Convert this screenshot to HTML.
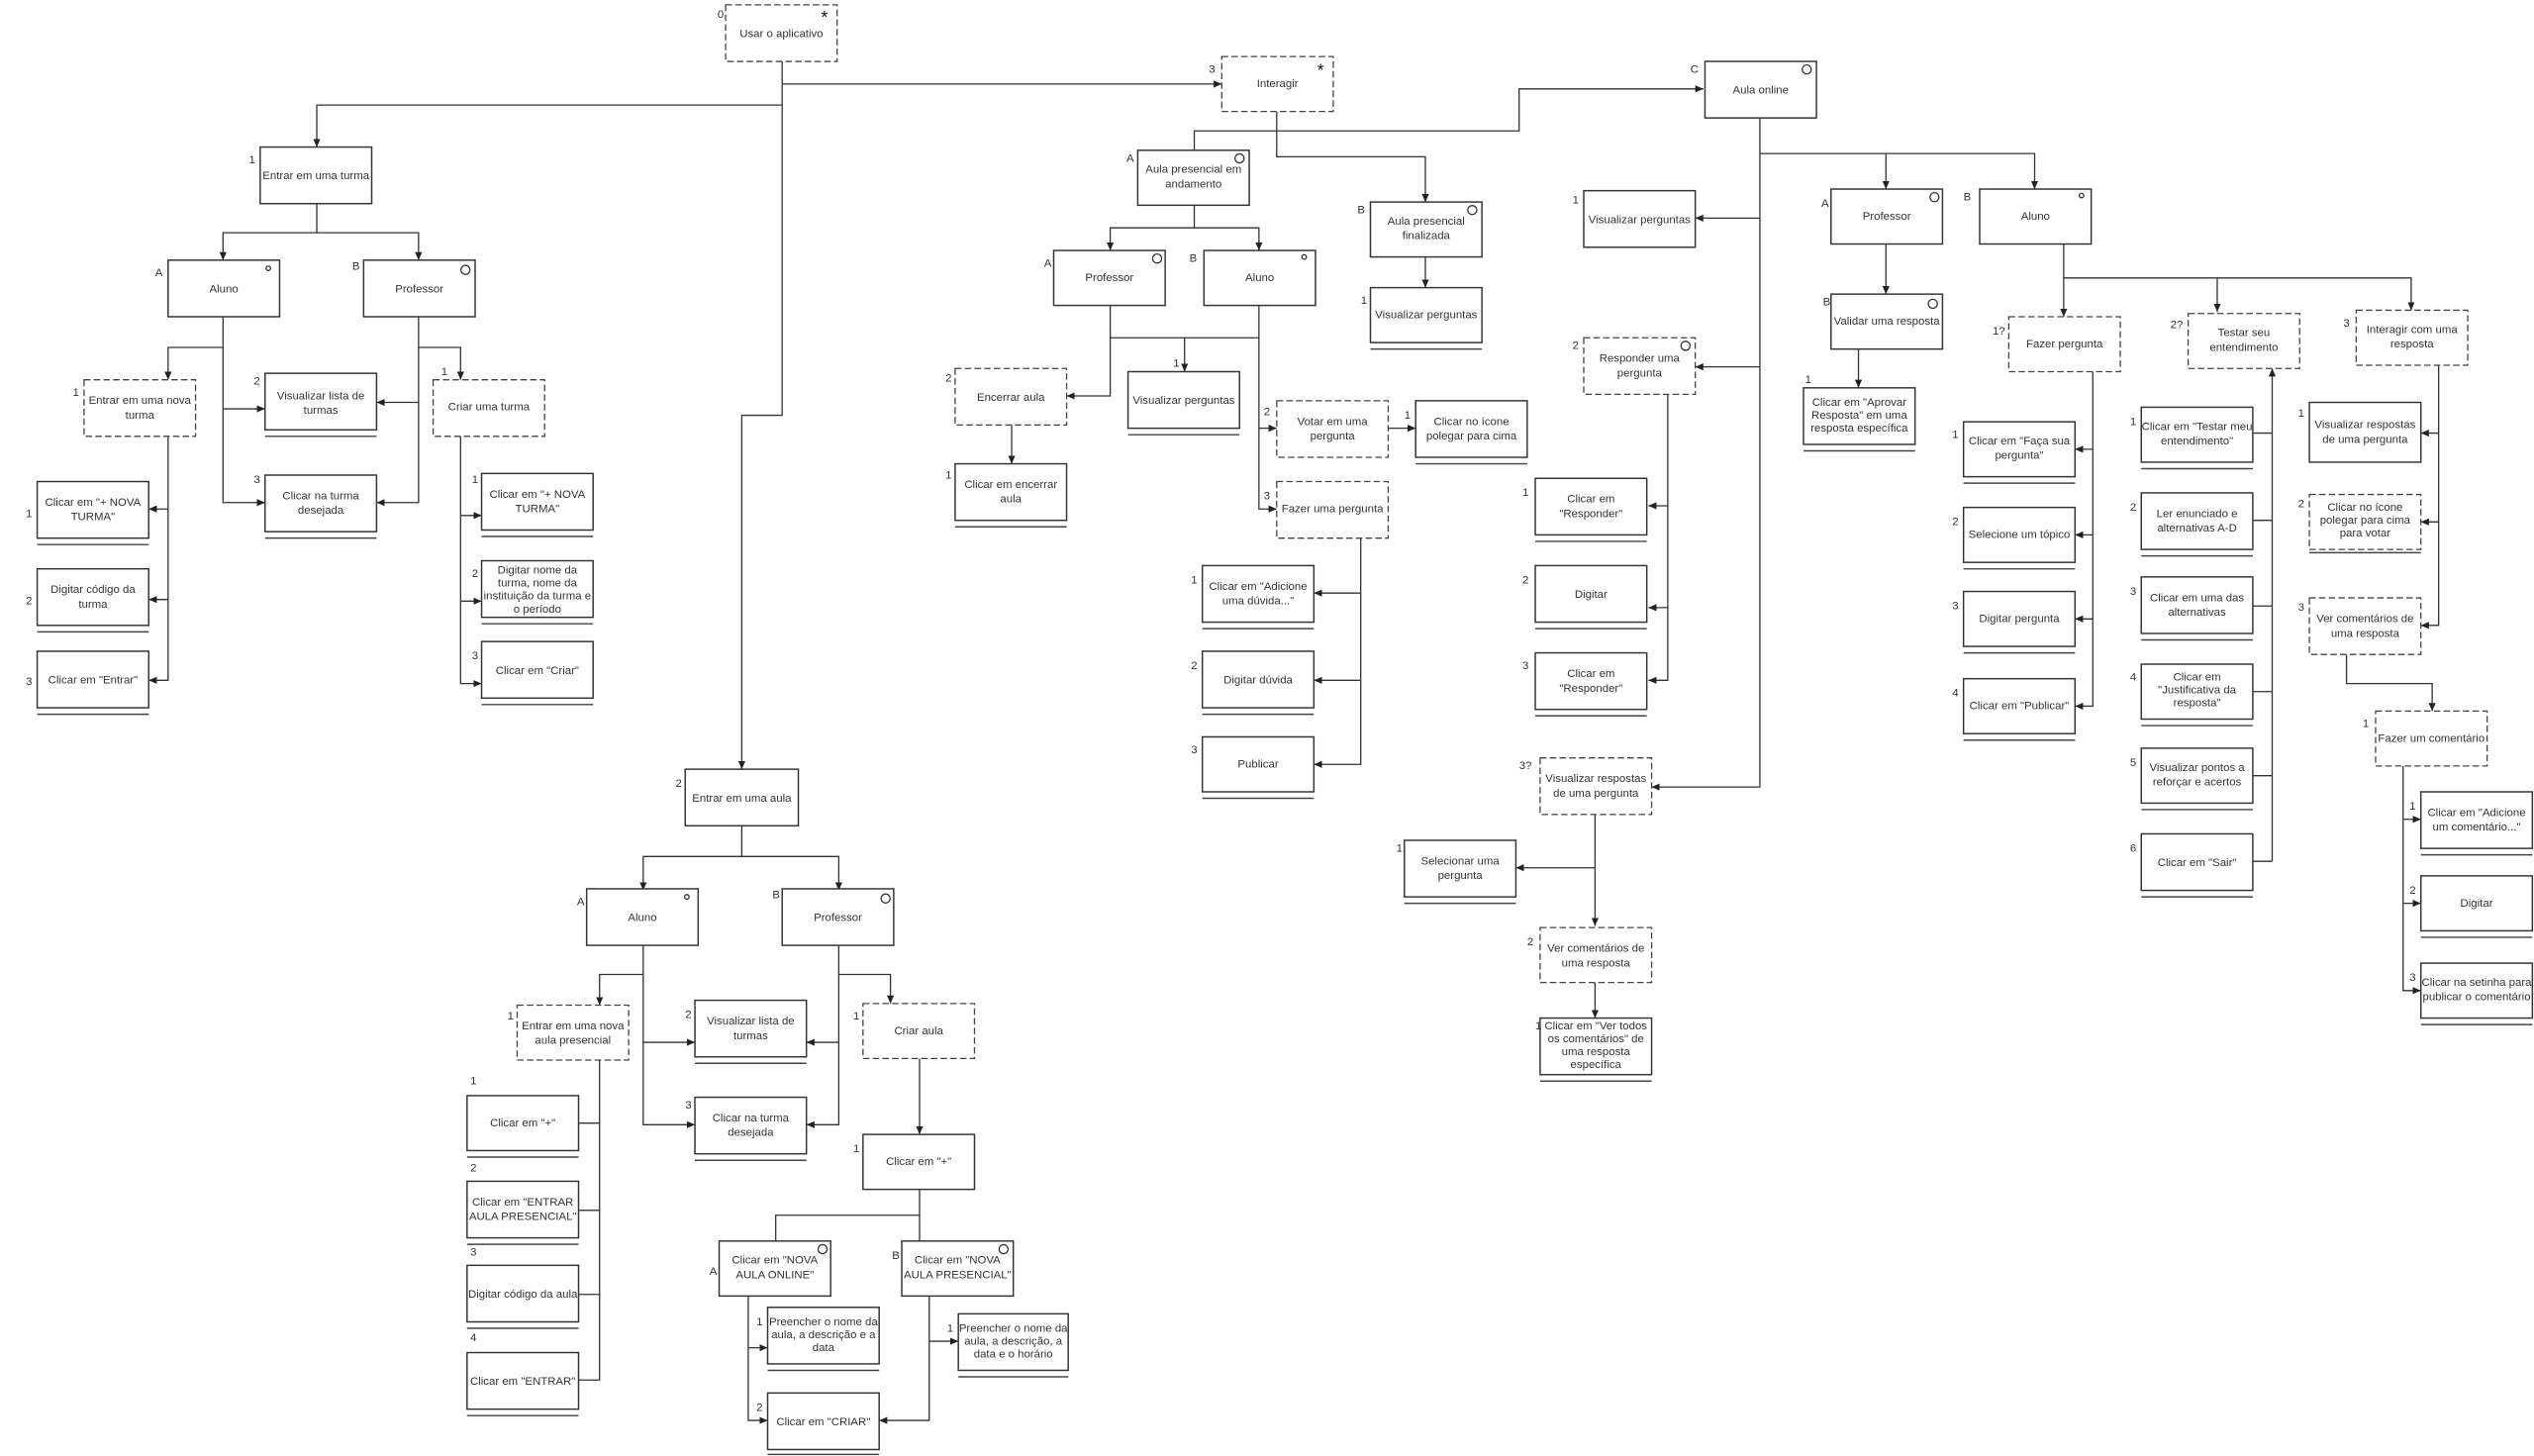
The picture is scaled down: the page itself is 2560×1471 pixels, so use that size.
<!DOCTYPE html>
<html><head><meta charset="utf-8"><style>
html,body{margin:0;padding:0;background:#fff;width:2560px;height:1471px;overflow:hidden}
svg{display:block}
text{font-family:"Liberation Sans",Arial,sans-serif;font-size:7px;fill:#333}
.t{text-anchor:middle}
.b{fill:#fff;stroke:#333;stroke-width:0.9}
.d{fill:#fff;stroke:#444;stroke-width:0.8;stroke-dasharray:4 2}
.u{stroke:#444;stroke-width:0.9}
.c{fill:none;stroke:#333;stroke-width:0.8}
.l{fill:none;stroke:#333;stroke-width:0.8}
</style></head><body>
<svg width="2560" height="1471" viewBox="0 0 1568 901" xmlns="http://www.w3.org/2000/svg">
<defs><marker id="a" markerWidth="6" markerHeight="6" refX="5" refY="3" orient="auto" markerUnits="userSpaceOnUse"><path d="M0,0.8 L5,3 L0,5.2 z" fill="#222"/></marker></defs>
<g class="l">
<path d="M484 38V257H459V476" marker-end="url(#a)"/>
<path d="M484 52H756" marker-end="url(#a)"/>
<path d="M484 65H196V91" marker-end="url(#a)"/>
<path d="M196 126V144H138V161" marker-end="url(#a)"/>
<path d="M196 144H259V161" marker-end="url(#a)"/>
<path d="M138 196V311H164" marker-end="url(#a)"/>
<path d="M138 253H164" marker-end="url(#a)"/>
<path d="M138 215H104V235" marker-end="url(#a)"/>
<path d="M259 196V311H233" marker-end="url(#a)"/>
<path d="M259 249H233" marker-end="url(#a)"/>
<path d="M259 215H285V235" marker-end="url(#a)"/>
<path d="M104 270V421H92" marker-end="url(#a)"/>
<path d="M104 315H92" marker-end="url(#a)"/>
<path d="M104 371H92" marker-end="url(#a)"/>
<path d="M285 270V423H298" marker-end="url(#a)"/>
<path d="M285 319H298" marker-end="url(#a)"/>
<path d="M285 372H298" marker-end="url(#a)"/>
<path d="M459 511V530H398V551" marker-end="url(#a)"/>
<path d="M459 530H519V551" marker-end="url(#a)"/>
<path d="M398 585V696H430" marker-end="url(#a)"/>
<path d="M398 645H430" marker-end="url(#a)"/>
<path d="M398 603H371V622" marker-end="url(#a)"/>
<path d="M519 585V696H499" marker-end="url(#a)"/>
<path d="M519 645H499" marker-end="url(#a)"/>
<path d="M519 603H551V621" marker-end="url(#a)"/>
<path d="M371 656V854H358M371 695H358M371 749H358M371 801H358"/>
<path d="M569 655V702" marker-end="url(#a)"/>
<path d="M569 736V752H480V768M569 752V768"/>
<path d="M463 802V879H475" marker-end="url(#a)"/>
<path d="M463 834H475" marker-end="url(#a)"/>
<path d="M575 802V879H544" marker-end="url(#a)"/>
<path d="M575 830H593" marker-end="url(#a)"/>
<path d="M790 69V97H882V125" marker-end="url(#a)"/>
<path d="M739 93V81H940V55H1054" marker-end="url(#a)"/>
<path d="M739 127V141H687V155" marker-end="url(#a)"/>
<path d="M739 141H779V155" marker-end="url(#a)"/>
<path d="M687 189V245H660" marker-end="url(#a)"/>
<path d="M687 209H779"/>
<path d="M733 209V230" marker-end="url(#a)"/>
<path d="M779 189V315H790" marker-end="url(#a)"/>
<path d="M779 265H790" marker-end="url(#a)"/>
<path d="M626 263V287" marker-end="url(#a)"/>
<path d="M859 265H876" marker-end="url(#a)"/>
<path d="M842 333V473H813" marker-end="url(#a)"/>
<path d="M842 367H813" marker-end="url(#a)"/>
<path d="M842 421H813" marker-end="url(#a)"/>
<path d="M882 159V178" marker-end="url(#a)"/>
<path d="M1089 73V487H1022" marker-end="url(#a)"/>
<path d="M1089 95H1259V117" marker-end="url(#a)"/>
<path d="M1167 95V117" marker-end="url(#a)"/>
<path d="M1089 135H1049" marker-end="url(#a)"/>
<path d="M1089 227H1049" marker-end="url(#a)"/>
<path d="M1167 151V182" marker-end="url(#a)"/>
<path d="M1150 216V240" marker-end="url(#a)"/>
<path d="M1277 151V172H1492V192" marker-end="url(#a)"/>
<path d="M1277 172V196" marker-end="url(#a)"/>
<path d="M1372 172V193" marker-end="url(#a)"/>
<path d="M1295 230V437H1284" marker-end="url(#a)"/>
<path d="M1295 278H1284" marker-end="url(#a)"/>
<path d="M1295 331H1284" marker-end="url(#a)"/>
<path d="M1295 383H1284" marker-end="url(#a)"/>
<path d="M1406 533V228" marker-end="url(#a)"/>
<path d="M1394 268H1406M1394 322H1406M1394 375H1406M1394 428H1406M1394 480H1406M1394 533H1406"/>
<path d="M1509 226V387H1498" marker-end="url(#a)"/>
<path d="M1509 268H1498" marker-end="url(#a)"/>
<path d="M1509 323H1498" marker-end="url(#a)"/>
<path d="M1452 405V423H1505V440" marker-end="url(#a)"/>
<path d="M1487 474V613H1498" marker-end="url(#a)"/>
<path d="M1487 507H1498" marker-end="url(#a)"/>
<path d="M1487 559H1498" marker-end="url(#a)"/>
<path d="M1032 244V421H1020" marker-end="url(#a)"/>
<path d="M1032 313H1020" marker-end="url(#a)"/>
<path d="M1032 376H1020" marker-end="url(#a)"/>
<path d="M987 504V573" marker-end="url(#a)"/>
<path d="M987 537H938" marker-end="url(#a)"/>
<path d="M987 608V630" marker-end="url(#a)"/>
</g>

<!-- boxes -->
<g>
<rect class="d" x="449" y="3" width="69" height="35"/><text class="t" x="483.5" y="23">Usar o aplicativo</text><text x="444" y="11">0</text><text x="508" y="14" style="font-size:11px;fill:#111">*</text>
<rect class="d" x="756" y="35" width="69" height="34"/><text class="t" x="790.5" y="54">Interagir</text><text x="748" y="45">3</text><text x="815" y="47" style="font-size:11px;fill:#111">*</text>

<rect class="b" x="161" y="91" width="69" height="35"/><text class="t" x="195.5" y="111">Entrar em uma turma</text><text x="154" y="101">1</text>
<rect class="b" x="104" y="161" width="69" height="35"/><text class="t" x="138.5" y="181">Aluno</text><text x="96" y="171">A</text><circle class="c" cx="166" cy="166" r="1.4"/>
<rect class="b" x="225" y="161" width="69" height="35"/><text class="t" x="259.5" y="181">Professor</text><text x="218" y="167">B</text><circle class="c" cx="288" cy="167" r="2.8"/>
<rect class="d" x="52" y="235" width="69" height="35"/><text class="t" x="86.5" y="250">Entrar em uma nova</text><text class="t" x="86.5" y="259">turma</text><text x="45" y="245">1</text>
<rect class="b" x="164" y="231" width="69" height="35"/><text class="t" x="198.5" y="247">Visualizar lista de</text><text class="t" x="198.5" y="256">turmas</text><text x="157" y="238">2</text><line class="u" x1="164" y1="270" x2="233" y2="270"/>
<rect class="d" x="268" y="235" width="69" height="35"/><text class="t" x="302.5" y="254">Criar uma turma</text><text x="273" y="232">1</text>
<rect class="b" x="164" y="294" width="69" height="35"/><text class="t" x="198.5" y="309">Clicar na turma</text><text class="t" x="198.5" y="318">desejada</text><text x="157" y="299">3</text><line class="u" x1="164" y1="333" x2="233" y2="333"/>
<rect class="b" x="23" y="298" width="69" height="35"/><text class="t" x="57.5" y="313">Clicar em "+ NOVA</text><text class="t" x="57.5" y="322">TURMA"</text><text x="16" y="320">1</text><line class="u" x1="23" y1="337" x2="92" y2="337"/>
<rect class="b" x="23" y="352" width="69" height="35"/><text class="t" x="57.5" y="367">Digitar código da</text><text class="t" x="57.5" y="376">turma</text><text x="16" y="374">2</text><line class="u" x1="23" y1="391" x2="92" y2="391"/>
<rect class="b" x="23" y="403" width="69" height="35"/><text class="t" x="57.5" y="423">Clicar em "Entrar"</text><text x="16" y="424">3</text><line class="u" x1="23" y1="442" x2="92" y2="442"/>
<rect class="b" x="298" y="293" width="69" height="35"/><text class="t" x="332.5" y="308">Clicar em "+ NOVA</text><text class="t" x="332.5" y="317">TURMA"</text><text x="292" y="299">1</text><line class="u" x1="298" y1="332" x2="367" y2="332"/>
<rect class="b" x="298" y="347" width="69" height="35"/><text class="t" x="332.5" y="355">Digitar nome da</text><text class="t" x="332.5" y="363">turma, nome da</text><text class="t" x="332.5" y="371">instituição da turma e</text><text class="t" x="332.5" y="379">o período</text><text x="292" y="357">2</text><line class="u" x1="298" y1="386" x2="367" y2="386"/>
<rect class="b" x="298" y="397" width="69" height="35"/><text class="t" x="332.5" y="417">Clicar em "Criar"</text><text x="292" y="408">3</text><line class="u" x1="298" y1="436" x2="367" y2="436"/>

<rect class="b" x="424" y="476" width="70" height="35"/><text class="t" x="459" y="496">Entrar em uma aula</text><text x="418" y="487">2</text>
<rect class="b" x="363" y="550" width="69" height="35"/><text class="t" x="397.5" y="570">Aluno</text><text x="357" y="560">A</text><circle class="c" cx="425" cy="555" r="1.4"/>
<rect class="b" x="484" y="550" width="69" height="35"/><text class="t" x="518.5" y="570">Professor</text><text x="478" y="556">B</text><circle class="c" cx="548" cy="556" r="2.8"/>
<rect class="d" x="320" y="622" width="69" height="34"/><text class="t" x="354.5" y="637">Entrar em uma nova</text><text class="t" x="354.5" y="646">aula presencial</text><text x="314" y="631">1</text>
<rect class="b" x="430" y="619" width="69" height="35"/><text class="t" x="464.5" y="634">Visualizar lista de</text><text class="t" x="464.5" y="643">turmas</text><text x="424" y="630">2</text><line class="u" x1="430" y1="658" x2="499" y2="658"/>
<rect class="d" x="534" y="621" width="69" height="34"/><text class="t" x="568.5" y="640">Criar aula</text><text x="528" y="631">1</text>
<rect class="b" x="430" y="679" width="69" height="35"/><text class="t" x="464.5" y="694">Clicar na turma</text><text class="t" x="464.5" y="703">desejada</text><text x="424" y="686">3</text><line class="u" x1="430" y1="718" x2="499" y2="718"/>
<rect class="b" x="289" y="678" width="69" height="34"/><text class="t" x="323.5" y="697">Clicar em "+"</text><text x="291" y="671">1</text><line class="u" x1="289" y1="716" x2="358" y2="716"/>
<rect class="b" x="289" y="731" width="69" height="35"/><text class="t" x="323.5" y="746">Clicar em "ENTRAR</text><text class="t" x="323.5" y="755">AULA PRESENCIAL"</text><text x="291" y="725">2</text><line class="u" x1="289" y1="770" x2="358" y2="770"/>
<rect class="b" x="289" y="783" width="69" height="35"/><text class="t" x="323.5" y="803">Digitar código da aula</text><text x="291" y="777">3</text><line class="u" x1="289" y1="822" x2="358" y2="822"/>
<rect class="b" x="289" y="837" width="69" height="35"/><text class="t" x="323.5" y="857">Clicar em "ENTRAR"</text><text x="291" y="830">4</text><line class="u" x1="289" y1="876" x2="358" y2="876"/>
<rect class="b" x="534" y="702" width="69" height="34"/><text class="t" x="568.5" y="721">Clicar em "+"</text><text x="528" y="713">1</text>
<rect class="b" x="445" y="768" width="69" height="34"/><text class="t" x="479.5" y="782">Clicar em "NOVA</text><text class="t" x="479.5" y="791">AULA ONLINE"</text><text x="439" y="789">A</text><circle class="c" cx="509" cy="773" r="2.8"/>
<rect class="b" x="558" y="768" width="69" height="34"/><text class="t" x="592.5" y="782">Clicar em "NOVA</text><text class="t" x="592.5" y="791">AULA PRESENCIAL"</text><text x="552" y="779">B</text><circle class="c" cx="621" cy="773" r="2.8"/>
<rect class="b" x="475" y="809" width="69" height="35"/><text class="t" x="509.5" y="820">Preencher o nome da</text><text class="t" x="509.5" y="828">aula, a descrição e a</text><text class="t" x="509.5" y="836">data</text><text x="468" y="820">1</text><line class="u" x1="475" y1="848" x2="544" y2="848"/>
<rect class="b" x="593" y="813" width="68" height="35"/><text class="t" x="627" y="824">Preencher o nome da</text><text class="t" x="627" y="832">aula, a descrição, a</text><text class="t" x="627" y="840">data e o horário</text><text x="586" y="824">1</text><line class="u" x1="593" y1="852" x2="661" y2="852"/>
<rect class="b" x="475" y="862" width="69" height="35"/><text class="t" x="509.5" y="882">Clicar em "CRIAR"</text><text x="468" y="873">2</text><line class="u" x1="475" y1="900" x2="544" y2="900"/>

<rect class="b" x="704" y="93" width="69" height="34"/><text class="t" x="738.5" y="107">Aula presencial em</text><text class="t" x="738.5" y="116">andamento</text><text x="697" y="100">A</text><circle class="c" cx="767" cy="98" r="2.8"/>
<rect class="b" x="848" y="125" width="69" height="34"/><text class="t" x="882.5" y="139">Aula presencial</text><text class="t" x="882.5" y="148">finalizada</text><text x="840" y="132">B</text><circle class="c" cx="911" cy="130" r="2.8"/>
<rect class="b" x="848" y="178" width="69" height="34"/><text class="t" x="882.5" y="197">Visualizar perguntas</text><text x="842" y="188">1</text><line class="u" x1="848" y1="216" x2="917" y2="216"/>
<rect class="b" x="652" y="155" width="69" height="34"/><text class="t" x="686.5" y="174">Professor</text><text x="646" y="165">A</text><circle class="c" cx="716" cy="160" r="2.8"/>
<rect class="b" x="745" y="155" width="69" height="34"/><text class="t" x="779.5" y="174">Aluno</text><text x="736" y="162">B</text><circle class="c" cx="807" cy="159" r="1.4"/>
<rect class="d" x="591" y="228" width="69" height="35"/><text class="t" x="625.5" y="248">Encerrar aula</text><text x="585" y="236">2</text>
<rect class="b" x="698" y="230" width="69" height="35"/><text class="t" x="732.5" y="250">Visualizar perguntas</text><text x="726" y="227">1</text><line class="u" x1="698" y1="269" x2="767" y2="269"/>
<rect class="b" x="591" y="287" width="69" height="35"/><text class="t" x="625.5" y="302">Clicar em encerrar</text><text class="t" x="625.5" y="311">aula</text><text x="585" y="296">1</text><line class="u" x1="591" y1="326" x2="660" y2="326"/>
<rect class="d" x="790" y="248" width="69" height="35"/><text class="t" x="824.5" y="263">Votar em uma</text><text class="t" x="824.5" y="272">pergunta</text><text x="782" y="257">2</text>
<rect class="b" x="876" y="248" width="69" height="35"/><text class="t" x="910.5" y="263">Clicar no ícone</text><text class="t" x="910.5" y="272">polegar para cima</text><text x="869" y="259">1</text><line class="u" x1="876" y1="287" x2="945" y2="287"/>
<rect class="d" x="790" y="298" width="69" height="35"/><text class="t" x="824.5" y="317">Fazer uma pergunta</text><text x="782" y="309">3</text>
<rect class="b" x="744" y="350" width="69" height="35"/><text class="t" x="778.5" y="365">Clicar em "Adicione</text><text class="t" x="778.5" y="374">uma dúvida..."</text><text x="737" y="361">1</text><line class="u" x1="744" y1="389" x2="813" y2="389"/>
<rect class="b" x="744" y="403" width="69" height="35"/><text class="t" x="778.5" y="423">Digitar dúvida</text><text x="737" y="414">2</text><line class="u" x1="744" y1="442" x2="813" y2="442"/>
<rect class="b" x="744" y="456" width="69" height="34"/><text class="t" x="778.5" y="475">Publicar</text><text x="737" y="466">3</text><line class="u" x1="744" y1="494" x2="813" y2="494"/>

<rect class="b" x="1055" y="38" width="69" height="35"/><text class="t" x="1089.5" y="58">Aula online</text><text x="1046" y="45">C</text><circle class="c" cx="1118" cy="43" r="2.8"/>
<rect class="b" x="980" y="118" width="69" height="35"/><text class="t" x="1014.5" y="138">Visualizar perguntas</text><text x="973" y="126">1</text>
<rect class="d" x="980" y="209" width="69" height="35"/><text class="t" x="1014.5" y="224">Responder uma</text><text class="t" x="1014.5" y="233">pergunta</text><text x="973" y="216">2</text><circle class="c" cx="1043" cy="214" r="2.8"/>
<rect class="b" x="1133" y="117" width="69" height="34"/><text class="t" x="1167.5" y="136">Professor</text><text x="1127" y="128">A</text><circle class="c" cx="1197" cy="122" r="2.8"/>
<rect class="b" x="1133" y="182" width="69" height="34"/><text class="t" x="1167.5" y="201">Validar uma resposta</text><text x="1128" y="189">B</text><circle class="c" cx="1196" cy="188" r="2.8"/>
<rect class="b" x="1116" y="240" width="69" height="35"/><text class="t" x="1150.5" y="251">Clicar em "Aprovar</text><text class="t" x="1150.5" y="259">Resposta" em uma</text><text class="t" x="1150.5" y="267">resposta específica</text><text x="1117" y="237">1</text><line class="u" x1="1116" y1="279" x2="1185" y2="279"/>
<rect class="b" x="1225" y="117" width="69" height="34"/><text class="t" x="1259.5" y="136">Aluno</text><text x="1215" y="124">B</text><circle class="c" cx="1288" cy="121" r="1.4"/>
<rect class="d" x="1243" y="196" width="69" height="34"/><text class="t" x="1277.5" y="215">Fazer pergunta</text><text x="1233" y="207">1?</text>
<rect class="d" x="1354" y="194" width="69" height="34"/><text class="t" x="1388.5" y="208">Testar seu</text><text class="t" x="1388.5" y="217">entendimento</text><text x="1343" y="203">2?</text>
<rect class="d" x="1458" y="192" width="69" height="34"/><text class="t" x="1492.5" y="206">Interagir com uma</text><text class="t" x="1492.5" y="215">resposta</text><text x="1450" y="202">3</text>
<rect class="b" x="1215" y="261" width="69" height="34"/><text class="t" x="1249.5" y="275">Clicar em "Faça sua</text><text class="t" x="1249.5" y="284">pergunta"</text><text x="1208" y="271">1</text><line class="u" x1="1215" y1="299" x2="1284" y2="299"/>
<rect class="b" x="1215" y="314" width="69" height="34"/><text class="t" x="1249.5" y="333">Selecione um tópico</text><text x="1208" y="325">2</text><line class="u" x1="1215" y1="352" x2="1284" y2="352"/>
<rect class="b" x="1215" y="366" width="69" height="34"/><text class="t" x="1249.5" y="385">Digitar pergunta</text><text x="1208" y="377">3</text><line class="u" x1="1215" y1="404" x2="1284" y2="404"/>
<rect class="b" x="1215" y="420" width="69" height="34"/><text class="t" x="1249.5" y="439">Clicar em "Publicar"</text><text x="1208" y="431">4</text><line class="u" x1="1215" y1="458" x2="1284" y2="458"/>
<rect class="b" x="1325" y="252" width="69" height="34"/><text class="t" x="1359.5" y="266">Clicar em "Testar meu</text><text class="t" x="1359.5" y="275">entendimento"</text><text x="1318" y="263">1</text><line class="u" x1="1325" y1="290" x2="1394" y2="290"/>
<rect class="b" x="1325" y="305" width="69" height="35"/><text class="t" x="1359.5" y="320">Ler enunciado e</text><text class="t" x="1359.5" y="329">alternativas A-D</text><text x="1318" y="316">2</text><line class="u" x1="1325" y1="344" x2="1394" y2="344"/>
<rect class="b" x="1325" y="357" width="69" height="35"/><text class="t" x="1359.5" y="372">Clicar em uma das</text><text class="t" x="1359.5" y="381">alternativas</text><text x="1318" y="368">3</text><line class="u" x1="1325" y1="396" x2="1394" y2="396"/>
<rect class="b" x="1325" y="411" width="69" height="34"/><text class="t" x="1359.5" y="421">Clicar em</text><text class="t" x="1359.5" y="429">"Justificativa da</text><text class="t" x="1359.5" y="437">resposta"</text><text x="1318" y="421">4</text><line class="u" x1="1325" y1="449" x2="1394" y2="449"/>
<rect class="b" x="1325" y="463" width="69" height="34"/><text class="t" x="1359.5" y="477">Visualizar pontos a</text><text class="t" x="1359.5" y="486">reforçar e acertos</text><text x="1318" y="474">5</text><line class="u" x1="1325" y1="501" x2="1394" y2="501"/>
<rect class="b" x="1325" y="516" width="69" height="35"/><text class="t" x="1359.5" y="536">Clicar em "Sair"</text><text x="1318" y="527">6</text><line class="u" x1="1325" y1="555" x2="1394" y2="555"/>
<rect class="b" x="1429" y="249" width="69" height="37"/><text class="t" x="1463.5" y="265">Visualizar respostas</text><text class="t" x="1463.5" y="274">de uma pergunta</text><text x="1422" y="258">1</text>
<rect class="d" x="1429" y="306" width="69" height="34"/><text class="t" x="1463.5" y="316">Clicar no ícone</text><text class="t" x="1463.5" y="324">polegar para cima</text><text class="t" x="1463.5" y="332">para votar</text><text x="1422" y="314">2</text><line class="u" x1="1429" y1="342" x2="1498" y2="342"/>
<rect class="d" x="1429" y="370" width="69" height="35"/><text class="t" x="1463.5" y="385">Ver comentários de</text><text class="t" x="1463.5" y="394">uma resposta</text><text x="1422" y="378">3</text>
<rect class="d" x="1470" y="440" width="69" height="34"/><text class="t" x="1504.5" y="459">Fazer um comentário</text><text x="1462" y="450">1</text>
<rect class="b" x="1498" y="490" width="69" height="35"/><text class="t" x="1532.5" y="505">Clicar em "Adicione</text><text class="t" x="1532.5" y="514">um comentário..."</text><text x="1491" y="501">1</text><line class="u" x1="1498" y1="529" x2="1567" y2="529"/>
<rect class="b" x="1498" y="542" width="69" height="34"/><text class="t" x="1532.5" y="561">Digitar</text><text x="1491" y="553">2</text><line class="u" x1="1498" y1="580" x2="1567" y2="580"/>
<rect class="b" x="1498" y="596" width="69" height="34"/><text class="t" x="1532.5" y="610">Clicar na setinha para</text><text class="t" x="1532.5" y="619">publicar o comentário</text><text x="1491" y="607">3</text><line class="u" x1="1498" y1="634" x2="1567" y2="634"/>

<rect class="b" x="950" y="296" width="69" height="35"/><text class="t" x="984.5" y="311">Clicar em</text><text class="t" x="984.5" y="320">"Responder"</text><text x="942" y="307">1</text><line class="u" x1="950" y1="335" x2="1019" y2="335"/>
<rect class="b" x="950" y="350" width="69" height="35"/><text class="t" x="984.5" y="370">Digitar</text><text x="942" y="361">2</text><line class="u" x1="950" y1="389" x2="1019" y2="389"/>
<rect class="b" x="950" y="404" width="69" height="35"/><text class="t" x="984.5" y="419">Clicar em</text><text class="t" x="984.5" y="428">"Responder"</text><text x="942" y="414">3</text><line class="u" x1="950" y1="443" x2="1019" y2="443"/>
<rect class="d" x="953" y="469" width="69" height="35"/><text class="t" x="987.5" y="484">Visualizar respostas</text><text class="t" x="987.5" y="493">de uma pergunta</text><text x="940" y="476">3?</text>
<rect class="b" x="869" y="520" width="69" height="35"/><text class="t" x="903.5" y="535">Selecionar uma</text><text class="t" x="903.5" y="544">pergunta</text><text x="864" y="527">1</text><line class="u" x1="869" y1="559" x2="938" y2="559"/>
<rect class="d" x="953" y="574" width="69" height="34"/><text class="t" x="987.5" y="589">Ver comentários de</text><text class="t" x="987.5" y="598">uma resposta</text><text x="945" y="585">2</text>
<rect class="b" x="953" y="630" width="69" height="35"/><text class="t" x="987.5" y="637">Clicar em "Ver todos</text><text class="t" x="987.5" y="645">os comentários" de</text><text class="t" x="987.5" y="653">uma resposta</text><text class="t" x="987.5" y="661">específica</text><text x="950" y="637">1</text><line class="u" x1="953" y1="669" x2="1022" y2="669"/>
</g>
</svg>
</body></html>
